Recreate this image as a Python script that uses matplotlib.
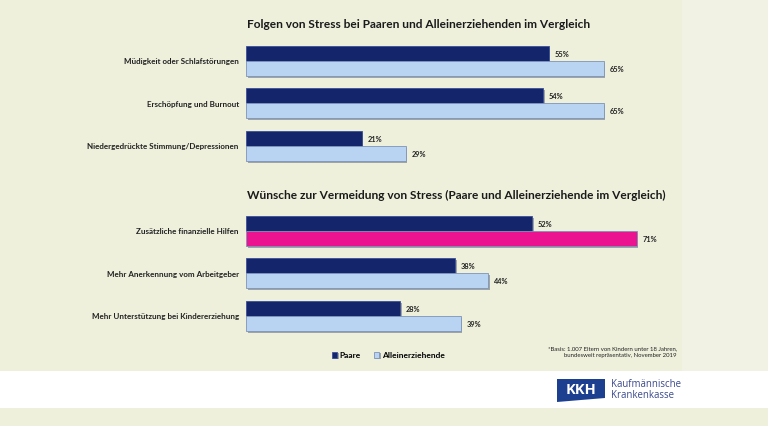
import matplotlib.pyplot as plt
import matplotlib.patheffects as pe
from matplotlib.patches import Rectangle, Polygon

plt.rcParams['font.family'] = ['Lato', 'DejaVu Sans']

# data
cats_top = ['Müdigkeit oder Schlafstörungen', 'Erschöpfung und Burnout',
            'Niedergedrückte Stimmung/Depressionen']
paare_top = [55, 54, 21]
allein_top = [65, 65, 29]

cats_bot = ['Zusätzliche finanzielle Hilfen', 'Mehr Anerkennung vom Arbeitgeber',
            'Mehr Unterstützung bei Kindererziehung']
paare_bot = [52, 38, 28]
allein_bot = [71, 44, 39]

title_top = 'Folgen von Stress bei Paaren und Alleinerziehenden im Vergleich'
title_bot = 'Wünsche zur Vermeidung von Stress (Paare und Alleinerziehende im Vergleich)'
series = ['Paare', 'Alleinerziehende']
note = '*Basis: 1.007 Eltern von Kindern unter 18 Jahren,\nbundesweit repräsentativ, November 2019'

W, H = 768, 427
BG = '#eef0dc'
DARK = '#15256b'
LIGHT = '#b9d3f3'
PINK = '#ec1391'

fig = plt.figure(figsize=(W / 100, H / 100), dpi=100)
fig.patch.set_facecolor(BG)

def px(x0, y0, w, h):
    return [x0 / W, 1 - (y0 + h) / H, w / W, h / H]

# background bands
bgax = fig.add_axes([0, 0, 1, 1])
bgax.set_xlim(0, W)
bgax.set_ylim(H, 0)
bgax.axis('off')
bgax.add_patch(Rectangle((682, 0), W - 682, 372, color='#f1f2e3', lw=0))
bgax.add_patch(Rectangle((0, 372), W, 37, color='white', lw=0))
# KKH logo
bgax.add_patch(Polygon([(557, 380), (605, 380), (605, 399), (557, 403)],
                       closed=True, color='#1d3f8f', lw=0))
bgax.text(581, 390.5, 'KKH', color='white', fontsize=10.5, fontweight='bold',
          ha='center', va='center', family=['Open Sans', 'DejaVu Sans'])
bgax.text(611, 390.5, 'Kaufmännische\nKrankenkasse', color='#3b4a8c', fontsize=6.9,
          ha='left', va='center', linespacing=1.0, family=['Open Sans', 'DejaVu Sans'])

shadow = [pe.SimplePatchShadow(offset=(1.2, -1.2), shadow_rgbFace='#6b7280', alpha=0.6),
          pe.Normal()]

def panel(top_px, cats, p, a, colors_a):
    ax = fig.add_axes(px(246, top_px, 440, 137.5))
    ax.set_xlim(0, 80)
    ax.set_ylim(8.17, -1.0)
    ax.axis('off')
    gap = 2.83
    ys = [i * gap for i in range(len(cats))]
    b1 = ax.barh(ys, p, height=1.0, color=DARK, edgecolor='#3a4f9a', lw=0.6)
    b2 = ax.barh([y + 1 for y in ys], a, height=1.0, color=colors_a,
                 edgecolor='#7d93b8', lw=0.6)
    for b in list(b1) + list(b2):
        b.set_path_effects(shadow)
    for y, v in zip(ys, p):
        ax.text(v + 1.1, y, f'{v}%', fontsize=5.3, fontweight='bold',
                va='center', ha='left', color='#222222')
    for y, v in zip(ys, a):
        ax.text(v + 1.1, y + 1, f'{v}%', fontsize=5.3, fontweight='bold',
                va='center', ha='left', color='#222222')
    for y, c in zip(ys, cats):
        ax.text(-1.3, y + 0.5, c, fontsize=5.75, fontweight='bold',
                va='center', ha='right', color='#222222')
    return ax, b1, b2

ax1, h1, h2 = panel(39.5, cats_top, paare_top, allein_top, LIGHT)
ax2, _, _ = panel(209.5, cats_bot, paare_bot, allein_bot,
                  [PINK, LIGHT, LIGHT])

fig.text(247 / W, 1 - 25 / H, title_top, fontsize=8.6, fontweight='bold',
         ha='left', va='center', color='#1a1a1a')
fig.text(247 / W, 1 - 195 / H, title_bot, fontsize=8.6, fontweight='bold',
         ha='left', va='center', color='#1a1a1a')

leg = fig.legend([h1, h2], series, loc='center left',
                 bbox_to_anchor=(324 / W, 1 - 356 / H), ncol=2, frameon=False,
                 fontsize=6, handlelength=0.7, handleheight=0.7,
                 handletextpad=0.3, columnspacing=1.5)
for t in leg.get_texts():
    t.set_fontweight('bold')

fig.text(677 / W, 1 - 352.5 / H, note, fontsize=4.3, ha='right', va='center',
         color='#222222', linespacing=1.5)

fig.savefig('out.png', dpi=100, facecolor=fig.get_facecolor())
